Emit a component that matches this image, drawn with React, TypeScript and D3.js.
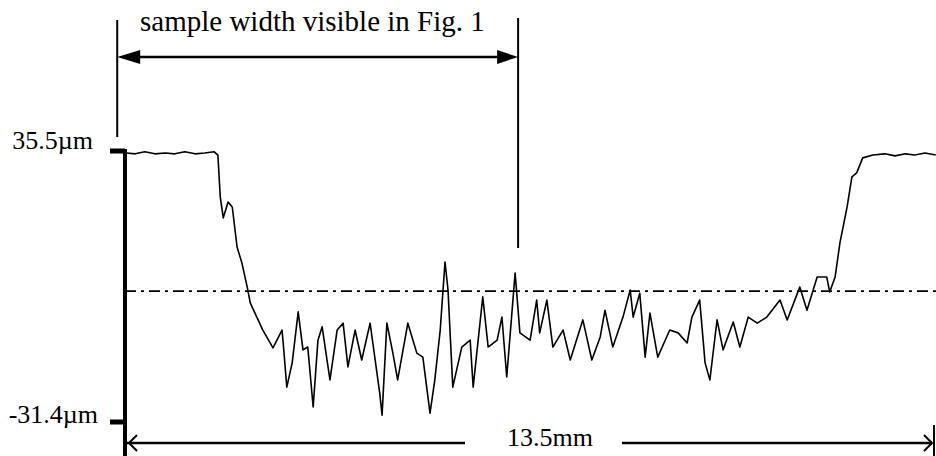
import React from 'react';
import * as d3 from 'd3';

// surface profile: position (mm) / height (µm)
const profileX = [
  0.03, 0.17, 0.33, 0.5, 0.67, 0.83, 1.0, 1.17, 1.33, 1.49, 1.55,
  1.59, 1.64, 1.72, 1.79, 1.87, 1.95, 2.04, 2.09, 2.2, 2.3, 2.47, 2.62, 2.64, 2.7, 2.79, 2.89,
  2.97, 3.05, 3.14, 3.22, 3.29, 3.42, 3.54, 3.64, 3.72, 3.84, 3.95, 4.09, 4.25, 4.29, 4.37,
  4.47, 4.55, 4.72, 4.87, 4.97, 5.09, 5.17, 5.26, 5.34, 5.39, 5.47, 5.62, 5.76, 5.81, 5.97,
  6.06, 6.21, 6.29, 6.37, 6.51, 6.59, 6.76, 6.87, 6.92, 7.04, 7.14, 7.31, 7.43, 7.64, 7.79,
  7.93, 8.01, 8.14, 8.31, 8.43, 8.48, 8.59, 8.68, 8.76, 8.89, 9.09, 9.23, 9.38, 9.46, 9.59,
  9.68, 9.76, 9.88, 9.98, 10.15, 10.26, 10.4, 10.55, 10.71, 10.93, 11.05, 11.26, 11.38, 11.55,
  11.71, 11.76, 11.85, 11.93, 12.05, 12.13, 12.21, 12.31, 12.48, 12.68, 12.85, 13.02, 13.18,
  13.35, 13.53,
];
const profileY = [
  35.0, 34.8, 35.3, 34.8, 35.0, 34.8, 35.3, 34.8, 35.0, 35.3, 34.5,
  24.1, 19.0, 22.9, 21.7, 11.8, 7.9, 1.9, -2.0, -5.5, -8.7, -13.1, -8.7, -11.9, -22.8, -16.8, -4.2,
  -13.6, -12.9, -27.7, -11.2, -7.9, -21.0, -8.7, -7.0, -17.8, -8.7, -16.1, -7.0, -24.2, -29.7, -7.0,
  -14.4, -21.0, -7.0, -14.4, -15.4, -29.2, -21.0, -8.7, 8.1, 1.2, -22.8, -12.9, -11.2, -22.8, -0.5,
  -12.9, -11.2, -5.5, -20.3, 5.4, -9.4, -11.2, -1.3, -9.4, -1.3, -12.9, -8.7, -16.1, -6.2, -16.1,
  -10.4, -3.8, -12.9, -5.5, 1.2, -5.5, 0.4, -15.4, -4.5, -15.4, -8.7, -9.4, -11.9, -5.5, -1.3,
  -16.8, -21.0, -6.2, -13.6, -6.7, -12.9, -5.5, -7.0, -5.5, -1.3, -6.2, 1.9, -3.8, 4.4,
  4.4, 0.7, 4.4, 12.8, 21.7, 29.1, 30.1, 33.8, 34.5, 34.8, 34.3, 34.8, 34.5,
  35.0, 34.5,
];

const yTicks = [35.5, -31.4];
const yTickLabels = ['35.5µm', '-31.4µm'];
const meanLevel = 0.9;
const scanLength = 13.5;
const scanLabel = '13.5mm';
const sampleRange = [-0.13, 6.56];
const sampleLabel = 'sample width visible in Fig. 1';

const W = 936;
const H = 456;
const FONT = "'Liberation Serif', 'DejaVu Serif', serif";

export default function App() {
  const x = d3.scaleLinear().domain([0, scanLength]).range([125, 934]);
  const y = d3.scaleLinear().domain([-31.4, 35.5]).range([422, 151]);

  const pts: [number, number][] = profileX.map((v, i) => [v, profileY[i]]);
  const line = d3
    .line<[number, number]>()
    .x((d) => x(d[0]))
    .y((d) => y(d[1]));

  const ax = x(0);
  const sx0 = x(sampleRange[0]);
  const sx1 = x(sampleRange[1]);
  const endX = x(scanLength);
  const topY = 57;
  const botY = 443;

  return (
    <svg
      width={W}
      height={H}
      style={{ position: 'fixed', left: 0, top: 0, background: '#fff', fontFamily: FONT }}
    >
      {/* sample width annotation */}
      <line x1={sx0} x2={sx0} y1={20} y2={137} stroke="#000" strokeWidth={2} />
      <line x1={sx1} x2={sx1} y1={18} y2={248} stroke="#000" strokeWidth={2} />
      <line x1={sx0 + 18} x2={sx1 - 18} y1={topY} y2={topY} stroke="#000" strokeWidth={2.5} />
      <path d={`M${sx0},${topY} L${sx0 + 23},${topY - 7} L${sx0 + 23},${topY + 7} Z`} fill="#000" />
      <path d={`M${sx1},${topY} L${sx1 - 21},${topY - 7} L${sx1 - 21},${topY + 7} Z`} fill="#000" />
      <text x={140} y={31} fontSize={29} style={{ fontFamily: FONT }}>
        {sampleLabel}
      </text>

      {/* mean line */}
      <line
        x1={ax}
        x2={W}
        y1={y(meanLevel)}
        y2={y(meanLevel)}
        stroke="#000"
        strokeWidth={1.6}
        strokeDasharray="11 5 3 5"
      />

      {/* profile */}
      <path d={line(pts) || ''} fill="none" stroke="#000" strokeWidth={1.6} strokeLinejoin="round" />

      {/* y axis */}
      <line x1={ax} x2={ax} y1={y(35.5) - 2} y2={H} stroke="#000" strokeWidth={4} />
      {yTicks.map((t, i) => (
        <g key={t}>
          <line x1={110} x2={ax} y1={y(t)} y2={y(t)} stroke="#000" strokeWidth={5} />
          <text
            x={i === 0 ? 93 : 98}
            y={y(t) + (i === 0 ? -2 : 1)}
            fontSize={26}
            textAnchor="end"
            style={{ fontFamily: FONT }}
          >
            {yTickLabels[i]}
          </text>
        </g>
      ))}

      {/* scan length arrow */}
      <line x1={ax + 2} x2={465} y1={botY} y2={botY} stroke="#000" strokeWidth={2.5} />
      <line x1={622} x2={endX - 2} y1={botY} y2={botY} stroke="#000" strokeWidth={2.5} />
      <path
        d={`M${ax + 12},${botY - 8} L${ax + 4},${botY} L${ax + 12},${botY + 8}`}
        fill="none"
        stroke="#000"
        strokeWidth={2}
      />
      <path
        d={`M${endX - 10},${botY - 8} L${endX - 2},${botY} L${endX - 10},${botY + 8}`}
        fill="none"
        stroke="#000"
        strokeWidth={2}
      />
      <line x1={endX} x2={endX} y1={425} y2={H} stroke="#000" strokeWidth={2} />
      <text x={550} y={446} fontSize={26} textAnchor="middle" style={{ fontFamily: FONT }}>
        {scanLabel}
      </text>
    </svg>
  );
}
